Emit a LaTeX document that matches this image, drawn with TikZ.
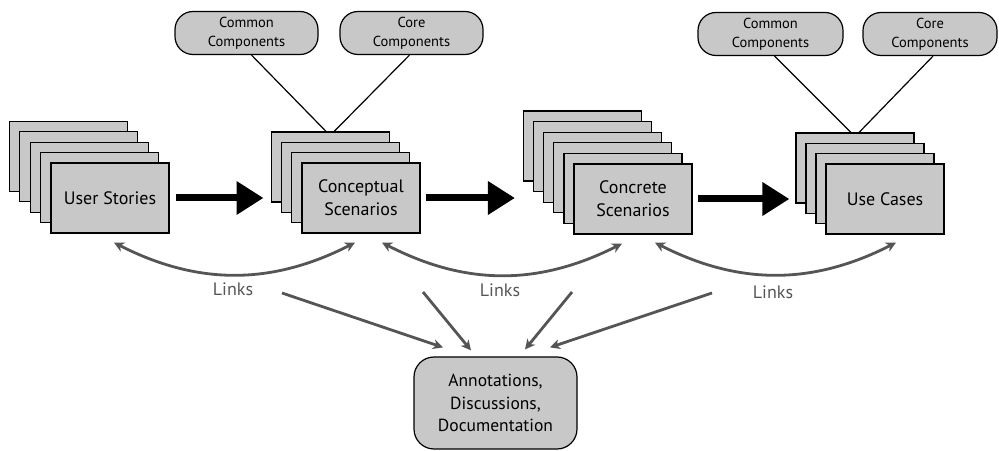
\documentclass[tikz,border=0pt]{standalone}
\usepackage{fontspec}
\setmainfont{PT Sans}
\usetikzlibrary{arrows.meta}
\definecolor{sheetgray}{HTML}{C8C8C8}
\definecolor{linkgray}{HTML}{555555}
\begin{document}
\begin{tikzpicture}[x=1pt, y=1pt,
sheet/.style={draw, line width=1.2pt, fill=sheetgray, minimum width=118pt,
minimum height=70pt, inner sep=0pt, align=center, font=\fontsize{18}{23}\selectfont},
bubble/.style={draw, line width=1.2pt, fill=sheetgray, rounded corners=18pt,
minimum height=43pt, inner sep=0pt, align=center, font=\fontsize{14.5}{19}\selectfont},
notes/.style={draw, line width=1.2pt, fill=sheetgray, rounded corners=20pt,
minimum width=163pt, minimum height=92pt, align=center, font=\fontsize{17.5}{22.5}\selectfont},
flow/.style={-{Triangle[length=27pt, width=32pt]}, line width=7pt},
link/.style={{Stealth[length=10pt, width=10pt, inset=3pt]}-{Stealth[length=10pt, width=10pt, inset=3pt]},
line width=2.8pt, color=linkgray},
feed/.style={-{Stealth[length=10pt, width=10pt, inset=3pt]}, line width=2.8pt, color=linkgray},
linklabel/.style={text=linkgray, font=\fontsize{18}{21}\selectfont}
]
\useasboundingbox (0,0) rectangle (999,450);

% stacks of sheets
\foreach \k in {4,...,1}
  \node[sheet] (stories-\k) at ({110-10.4*\k},{252+10.4*\k}) {};
\node[sheet] (stories) at (110,252) {User Stories};
\foreach \k in {3,...,1}
  \node[sheet] (concept-\k) at ({361-10.3*\k},{252+10.3*\k}) {};
\node[sheet] (concept) at (361,252) {Conceptual\\Scenarios};
\foreach \k in {5,...,1}
  \node[sheet] (concrete-\k) at ({633-10.1*\k},{251+10.6*\k}) {};
\node[sheet] (concrete) at (633,251) {Concrete\\Scenarios};
\foreach \k in {3,...,1}
  \node[sheet] (usecases-\k) at ({885-10*\k},{251+10.3*\k}) {};
\node[sheet] (usecases) at (885,251) {Use Cases};

% component bubbles
\node[bubble, minimum width=143pt] (common1) at (246.5,417) {Common\\Components};
\node[bubble, minimum width=143pt] (core1) at (411.5,417) {Core\\Components};
\node[bubble, minimum width=145pt] (common2) at (770.5,416) {Common\\Components};
\node[bubble, minimum width=134pt] (core2) at (930,416) {Core\\Components};
\draw[line width=1.2pt] ([xshift=5pt]common1.south) -- ([xshift=-4pt]concept-3.north);
\draw[line width=1.2pt] ([xshift=-2pt]core1.south) -- ([xshift=4pt]concept-3.north);
\draw[line width=1.2pt] ([xshift=4pt]common2.south) -- ([xshift=-4pt]usecases-3.north);
\draw[line width=1.2pt] ([xshift=3pt]core2.south) -- ([xshift=4pt]usecases-3.north);

% main flow
\draw[flow] ([xshift=6pt]stories.east) -- ([xshift=-7pt]stories.east -| concept-3.west);
\draw[flow] ([xshift=5pt]concept.east) -- ([xshift=-8pt]concept.east -| concrete-5.west);
\draw[flow] ([xshift=5pt]concrete.east) -- ([xshift=-6pt]concrete.east -| usecases-3.west);

% links
\draw[link] ([xshift=4pt,yshift=-9pt]stories.south) to[bend right=27] ([xshift=-6pt,yshift=-9pt]concept.south);
\draw[link] ([xshift=21pt,yshift=-9pt]concept.south) to[bend right=27] ([xshift=-11pt,yshift=-9pt]concrete.south);
\draw[link] ([xshift=22pt,yshift=-8pt]concrete.south) to[bend right=27] ([xshift=11pt,yshift=-8pt]usecases.south);
\node[linklabel] (links1) at (233,161) {Links};
\node[linklabel] (links2) at (500,160) {Links};
\node[linklabel] (links3) at (773,158) {Links};

% annotations
\node[notes] (annot) at (495.5,47) {Annotations,\\Discussions,\\Documentation};
\coordinate (feed1) at (282,157);
\coordinate (feed2) at (423,158);
\coordinate (feed3) at (572,158);
\coordinate (feed4) at (712,157);
\draw[feed] (feed1) -- ([xshift=-52.5pt,yshift=9pt]annot.north);
\draw[feed] (feed2) -- ([xshift=-24.5pt,yshift=6pt]annot.north);
\draw[feed] (feed3) -- ([xshift=29.5pt,yshift=7pt]annot.north);
\draw[feed] (feed4) -- ([xshift=54.5pt,yshift=9pt]annot.north);
\end{tikzpicture}
\end{document}
